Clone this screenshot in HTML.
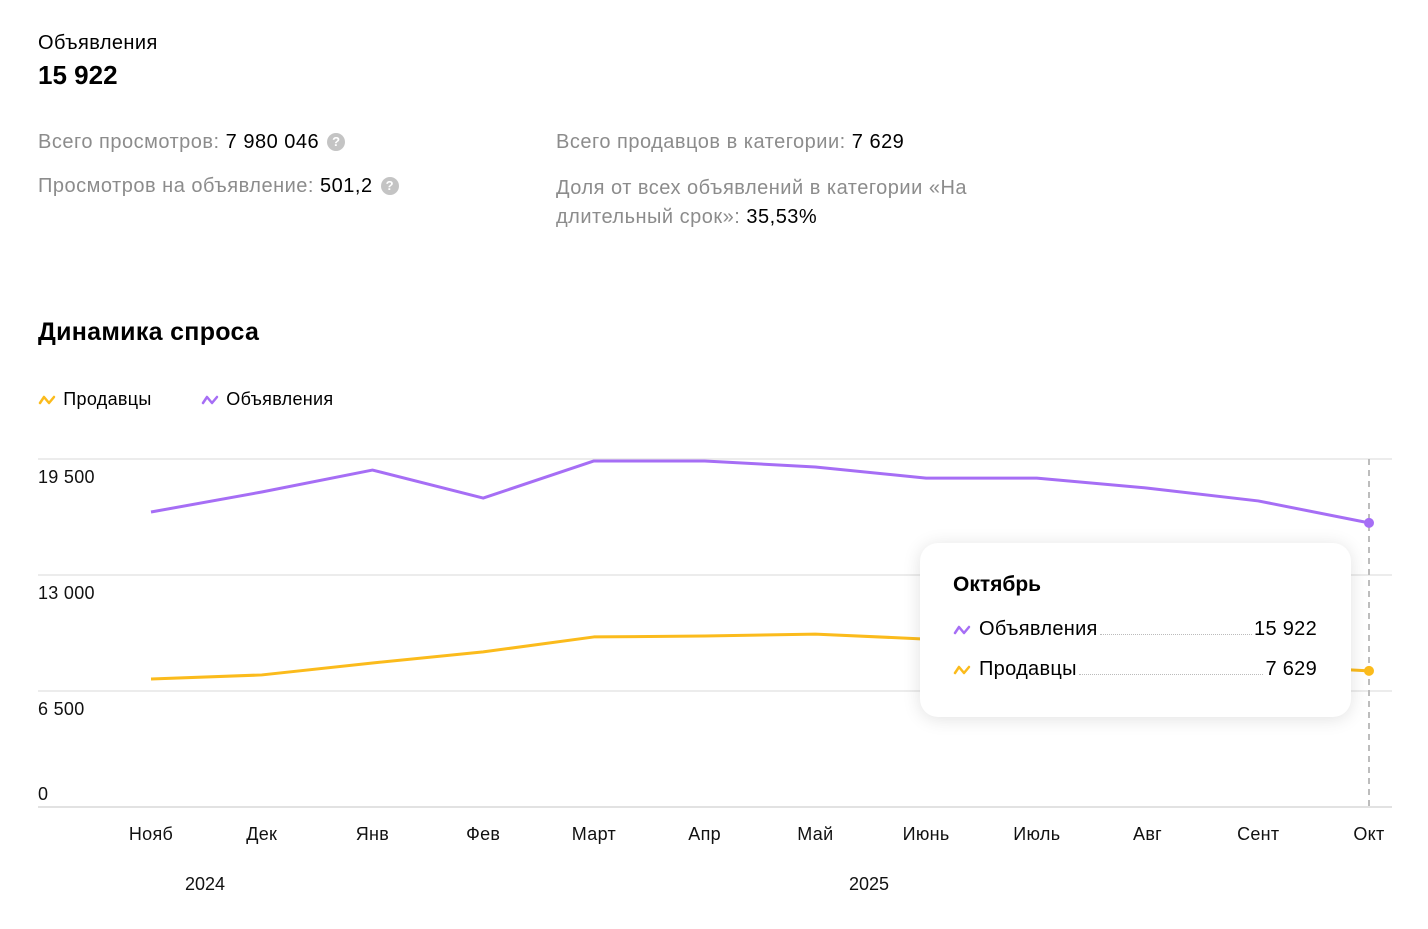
<!DOCTYPE html>
<html><head><meta charset="utf-8">
<style>
html,body{margin:0;padding:0;background:#fff;width:1428px;height:929px;overflow:hidden;font-family:"Liberation Sans","DejaVu Sans",sans-serif;color:#000}
.abs{position:absolute;white-space:nowrap}
.g{color:#8c8c8c}
.q{display:inline-block;width:18px;height:18px;border-radius:50%;background:#c4c4c4;color:#fff;font-size:13px;font-weight:bold;text-align:center;line-height:18px;vertical-align:2px;margin-left:8px;letter-spacing:0}
.stat{font-size:20px;letter-spacing:0.5px}
.ico{display:inline-block;width:20px;vertical-align:middle}
</style></head><body>
<div class="abs" style="left:38px;top:32px;font-size:20px;letter-spacing:0.4px">Объявления</div>
<div class="abs" style="left:38px;top:60px;font-size:26px;font-weight:bold">15 922</div>
<div class="abs stat" style="left:38px;top:131px"><span class="g">Всего просмотров:</span> 7 980 046<span class="q">?</span></div>
<div class="abs stat" style="left:38px;top:175px"><span class="g">Просмотров на объявление:</span> 501,2<span class="q">?</span></div>
<div class="abs stat" style="left:556px;top:131px"><span class="g">Всего продавцов в категории:</span> 7 629</div>
<div class="abs stat" style="left:556px;top:174px;line-height:29px"><span class="g">Доля от всех объявлений в категории «На<br>длительный срок»:</span> 35,53%</div>
<div class="abs" style="left:38px;top:318px;font-size:25px;font-weight:bold;letter-spacing:0.3px">Динамика спроса</div>

<svg id="chart" class="abs" style="left:0;top:0" width="1428" height="929"></svg>

<script>
const months=["Нояб","Дек","Янв","Фев","Март","Апр","Май","Июнь","Июль","Авг","Сент","Окт"];
const listings=[16530,17650,18880,17310,19390,19390,19050,18430,18430,17870,17150,15922];
const sellers=[7170,7400,8070,8690,9530,9580,9690,9410,9080,8520,7960,7629];
const yTicks=[0,6500,13000,19500];
const yTickLabels=["0","6 500","13 000","19 500"];
const years=["2024","2025"];

const NS="http://www.w3.org/2000/svg";
const svg=document.getElementById('chart');
const y=v=>807-v*(348/19500);
const x=i=>151+i*(1218/11);
function mk(t,a){const e=document.createElementNS(NS,t);for(const k in a)e.setAttribute(k,a[k]);svg.appendChild(e);return e;}

yTicks.forEach((v,i)=>{
  const l=mk('line',{x1:38,x2:1392,y1:y(v),y2:y(v),stroke:i===0?'#d9d9d9':'#e6e6e6','stroke-width':1.5});
  
  
  const t=mk('text',{x:38,y:i===0?y(v)-7:y(v)+24,'font-size':18,fill:'#111','letter-spacing':0.3});
  t.textContent=yTickLabels[i];
  
  
});
months.forEach((m,i)=>{
  const t=mk('text',{x:x(i),y:840,'font-size':18,'text-anchor':'middle',fill:'#111','letter-spacing':0.3});
  t.textContent=m;
  
  
});
[205,869].forEach((px,i)=>{
  const t=mk('text',{x:px,y:890,'font-size':18,'text-anchor':'middle',fill:'#111'});
  t.textContent=years[i];
  
  
});
const hl=mk('line',{x1:x(11),x2:x(11),y1:459,y2:807,stroke:'#bdbdbd','stroke-width':2,'stroke-dasharray':'6 5'});



function series(arr,color,name){
  const p=mk('polyline',{points:arr.map((v,i)=>x(i)+','+y(v)).join(' '),fill:'none',stroke:color,'stroke-width':3,'stroke-linejoin':'round'});
  
  
  const c=mk('circle',{cx:x(arr.length-1),cy:y(arr[arr.length-1]),r:5,fill:color});
  
  
}
series(listings,'#a66ef5','listings');
series(sellers,'#fbbb1c','sellers');
</script>

<!-- legend -->
<div class="abs" style="left:38px;top:389px;font-size:18px;letter-spacing:0.3px"><svg class="ico" width="20" height="12" viewBox="0 0 20 12"><path d="M2 9 L6 3 L11 9 L16 3" fill="none" stroke="#fbbb1c" stroke-width="2.5" stroke-linejoin="round" stroke-linecap="round"/></svg> Продавцы</div>
<div class="abs" style="left:201px;top:389px;font-size:18px;letter-spacing:0.3px"><svg class="ico" width="20" height="12" viewBox="0 0 20 12"><path d="M2 9 L6 3 L11 9 L16 3" fill="none" stroke="#a66ef5" stroke-width="2.5" stroke-linejoin="round" stroke-linecap="round"/></svg> Объявления</div>

<!-- tooltip -->
<div class="abs" style="left:920px;top:543px;width:431px;height:174px;background:#fff;border-radius:18px;box-shadow:0 2px 18px rgba(0,0,0,0.12)">
  <div class="abs" style="left:33px;top:30px;font-size:21px;font-weight:bold">Октябрь</div>
  <div class="abs" style="left:33px;top:75px;width:364px;font-size:20px;display:flex;align-items:baseline;letter-spacing:0.3px"><svg class="ico" width="20" height="12" viewBox="0 0 20 12" style="margin-right:6px;align-self:center"><path d="M2 9 L6 3 L11 9 L16 3" fill="none" stroke="#a66ef5" stroke-width="2.5" stroke-linejoin="round" stroke-linecap="round"/></svg>Объявления<span style="flex:1;border-bottom:1px dotted #bbb;margin:0 2px"></span>15 922</div>
  <div class="abs" style="left:33px;top:115px;width:364px;font-size:20px;display:flex;align-items:baseline;letter-spacing:0.3px"><svg class="ico" width="20" height="12" viewBox="0 0 20 12" style="margin-right:6px;align-self:center"><path d="M2 9 L6 3 L11 9 L16 3" fill="none" stroke="#fbbb1c" stroke-width="2.5" stroke-linejoin="round" stroke-linecap="round"/></svg>Продавцы<span style="flex:1;border-bottom:1px dotted #bbb;margin:0 2px"></span>7 629</div>
</div>
</body></html>
